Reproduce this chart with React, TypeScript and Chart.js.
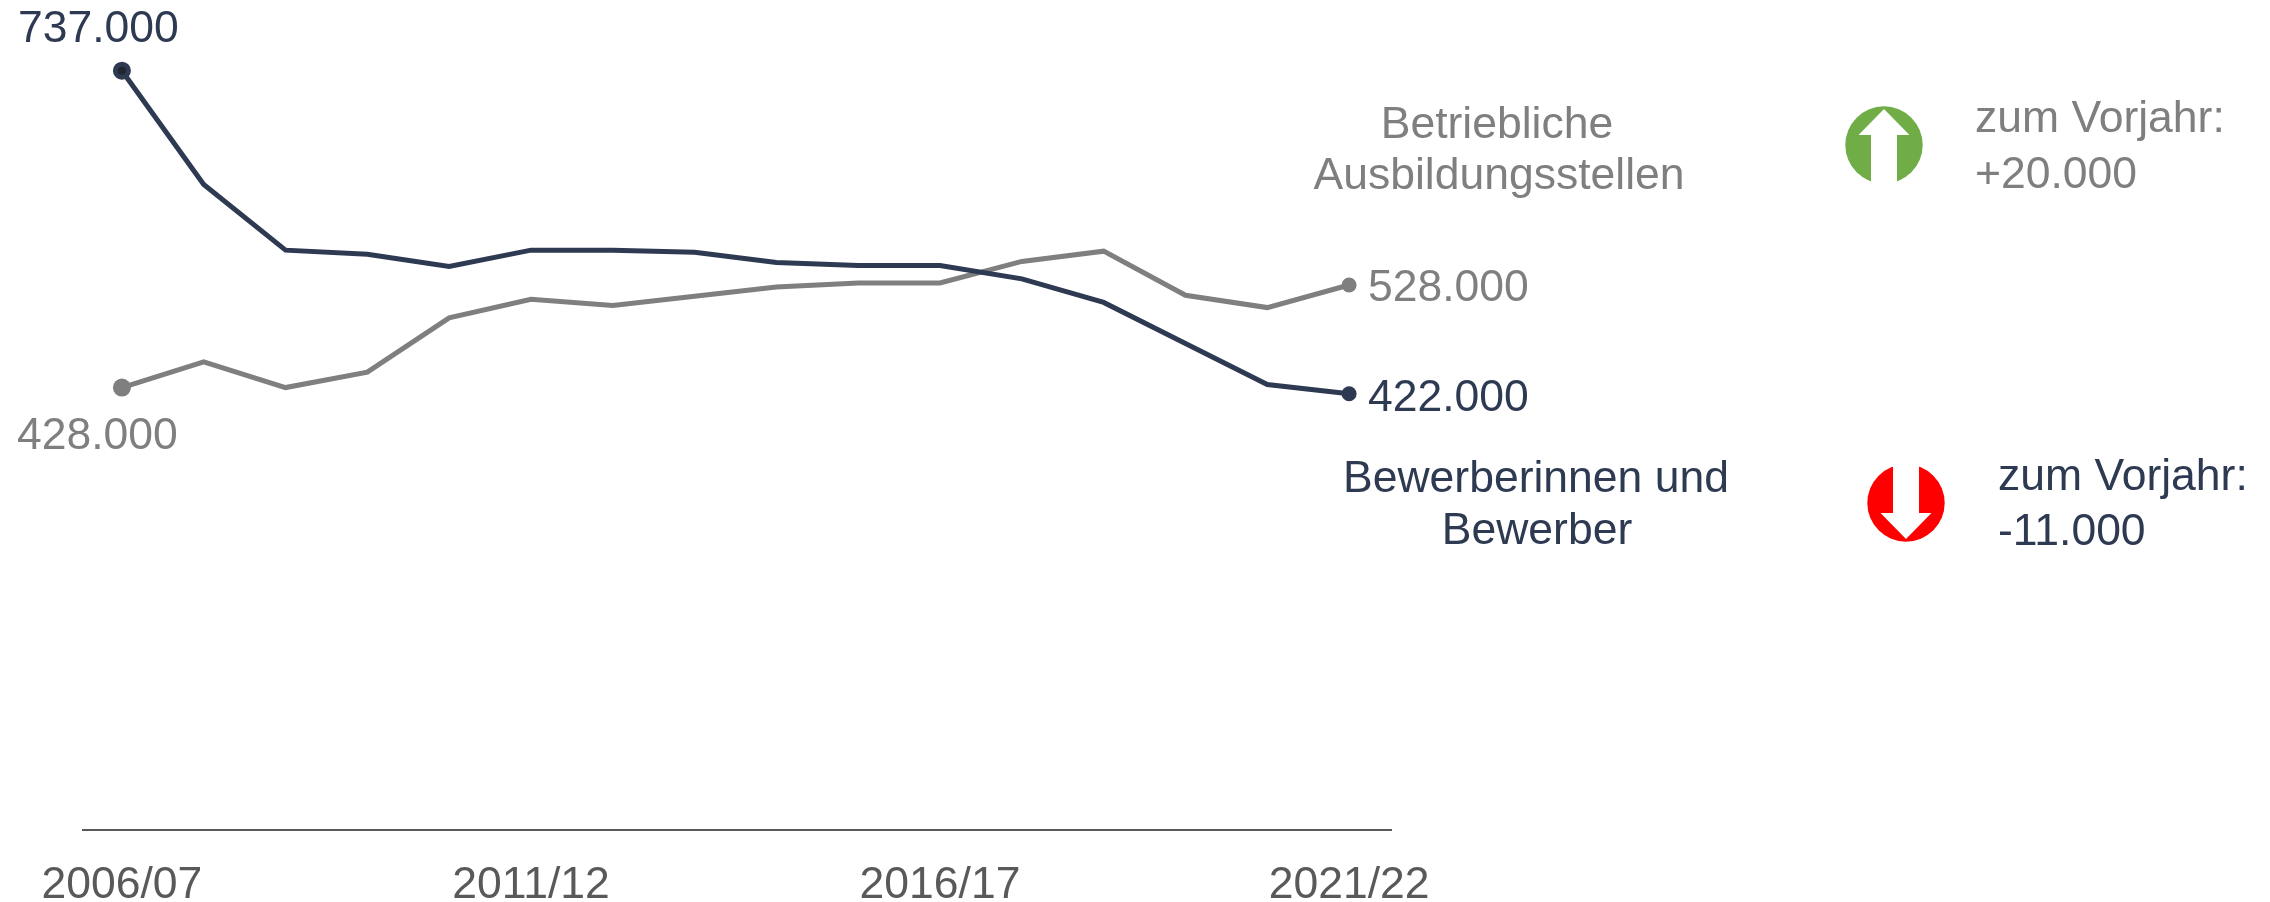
import React, { useEffect, useRef } from "react";
import { Chart, registerables } from "chart.js";

Chart.register(...registerables);

const categories = ["2006/07","2007/08","2008/09","2009/10","2010/11","2011/12","2012/13","2013/14","2014/15","2015/16","2016/17","2017/18","2018/19","2019/20","2020/21","2021/22"];
const shownTicks = ["2006/07","2011/12","2016/17","2021/22"];
const applicants = [737,626,562,558,546,562,562,560,550,547,547,534,511,471,431,422];
const places = [428,453,428,443,496,514,508,517,526,530,530,551,561,518,506,528];

const DARK = "#2E3A52";
const GREY = "#7F7F7F";
const AXIS = "#595959";
const FAMILY = '"Liberation Sans", Arial, sans-serif';
const FONT = `44.5px ${FAMILY}`;

const fmt = (v: number) => `${v}.000`;

const overlay = {
  id: "overlay",
  beforeDatasetsDraw(chart: any) {
    const { ctx, scales } = chart;
    ctx.save();
    ctx.strokeStyle = AXIS;
    ctx.lineWidth = 2;
    ctx.beginPath();
    ctx.moveTo(82, scales.y.bottom);
    ctx.lineTo(1392, scales.y.bottom);
    ctx.stroke();
    ctx.restore();
  },
  afterDraw(chart: any) {
    const { ctx, scales } = chart;
    const y = scales.y;
    const last = categories.length - 1;
    ctx.save();
    ctx.font = FONT;
    ctx.textBaseline = "middle";
    const text = (s: string, px: number, py: number, c: string, align: CanvasTextAlign = "left") => {
      ctx.fillStyle = c;
      ctx.textAlign = align;
      ctx.fillText(s, px, py);
    };
    text(fmt(applicants[0]), 18, y.getPixelForValue(applicants[0]) - 41, DARK);
    text(fmt(places[0]), 17, y.getPixelForValue(places[0]) + 49, GREY);
    text(fmt(places[last]), 1368, y.getPixelForValue(places[last]) + 4, GREY);
    text(fmt(applicants[last]), 1368, y.getPixelForValue(applicants[last]) + 5, DARK);

    text("Betriebliche", 1497, 126, GREY, "center");
    text("Ausbildungsstellen", 1499, 177, GREY, "center");
    text("Bewerberinnen und", 1536, 480, DARK, "center");
    text("Bewerber", 1537, 532, DARK, "center");
    text("zum Vorjahr:", 1975, 120, GREY);
    text("+20.000", 1975, 176, GREY);
    text("zum Vorjahr:", 1998, 478, DARK);
    text("-11.000", 1998, 533, DARK);

    const arrow = (cx: number, cy: number, fill: string, dir: number) => {
      const r = 38.7;
      ctx.fillStyle = fill;
      ctx.beginPath();
      ctx.arc(cx, cy, r, 0, Math.PI * 2);
      ctx.fill();
      ctx.fillStyle = "#FFFFFF";
      ctx.beginPath();
      ctx.moveTo(cx, cy - dir * 36);
      ctx.lineTo(cx + 25.5, cy - dir * 10);
      ctx.lineTo(cx + 13, cy - dir * 10);
      ctx.lineTo(cx + 13, cy + dir * 40);
      ctx.lineTo(cx - 13, cy + dir * 40);
      ctx.lineTo(cx - 13, cy - dir * 10);
      ctx.lineTo(cx - 25.5, cy - dir * 10);
      ctx.closePath();
      ctx.fill();
    };
    arrow(1884, 145, "#70AD47", 1);
    arrow(1906, 503, "#FF0000", -1);
    ctx.restore();
  },
};

const endRadius = (c: any) => (c.dataIndex === 0 ? 9 : c.dataIndex === categories.length - 1 ? 7.5 : 0);

export default function App() {
  const ref = useRef<HTMLCanvasElement>(null);
  useEffect(() => {
    const chart = new Chart(ref.current!, {
      type: "line",
      data: {
        labels: categories,
        datasets: [
          {
            label: "Bewerberinnen und Bewerber",
            data: applicants,
            borderColor: DARK,
            backgroundColor: DARK,
            borderWidth: 5,
            tension: 0,
            pointRadius: (c: any) => (c.dataIndex === 0 ? 6.5 : endRadius(c)),
            pointBorderWidth: (c: any) => (c.dataIndex === 0 ? 5 : 0),
            pointBorderColor: DARK,
            pointBackgroundColor: (c: any) => (c.dataIndex === 0 ? "#20262E" : DARK),
          },
          {
            label: "Betriebliche Ausbildungsstellen",
            data: places,
            borderColor: GREY,
            backgroundColor: GREY,
            borderWidth: 5,
            tension: 0,
            pointRadius: endRadius,
            pointBorderWidth: 0,
          },
        ],
      },
      options: {
        animation: false,
        responsive: false,
        devicePixelRatio: 1,
        layout: { padding: { left: 81, right: 880, top: 10, bottom: 0 } },
        plugins: { legend: { display: false }, tooltip: { enabled: false } },
        scales: {
          x: {
            offset: true,
            grid: { display: false, drawTicks: false },
            border: { display: false },
            afterFit: (s: any) => { s.height = 72; },
            ticks: {
              autoSkip: false,
              maxRotation: 0,
              minRotation: 0,
              padding: 29,
              color: AXIS,
              font: { family: FAMILY, size: 44.5 },
              callback(this: any, v: any) {
                const l = categories[v];
                return shownTicks.includes(l) ? l : "";
              },
            },
          },
          y: { display: false, min: -3.4, max: 794.7 },
        },
      },
      plugins: [overlay],
    } as any);
    return () => chart.destroy();
  }, []);
  return (
    <div style={{ position: "absolute", left: 0, top: 0, width: 2270, height: 902, background: "#fff" }}>
      <canvas ref={ref} width={2270} height={902} style={{ display: "block" }} />
    </div>
  );
}
